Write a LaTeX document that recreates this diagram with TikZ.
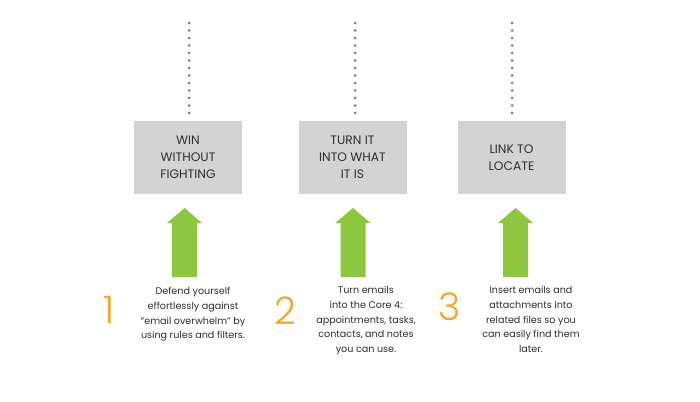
\documentclass[tikz,border=0pt]{standalone}
\usepackage{fontspec}
\setmainfont{Poppins}
\newfontfamily\numfont{Poppins Light}
\definecolor{boxgray}{HTML}{D3D3D3}
\definecolor{arrowgreen}{HTML}{8DC63F}
\definecolor{numorange}{HTML}{F4A62A}
\definecolor{dotgray}{HTML}{7F7F7F}
\definecolor{inkgray}{HTML}{2E2E2E}
\begin{document}
\begin{tikzpicture}[x=1pt,y=-1pt,
  stepbox/.style={fill=boxgray, draw=none, minimum width=108pt, minimum height=73pt,
    inner sep=0pt, align=center, text=inkgray, font=\fontsize{12.3}{16.8}\selectfont},
  dotline/.style={draw=dotgray, line width=3pt, line cap=round, dash pattern=on 0pt off 7.5pt},
  desc/.style={anchor=north, align=center, text=inkgray, inner sep=0pt,
    font=\fontsize{9.6}{14.8}\selectfont},
  stepnum/.style={text=numorange, inner sep=0pt, font=\numfont\fontsize{38}{38}\selectfont},
  pics/uparrow/.style={code={
    \fill[arrowgreen] (-12.5,69) -- (-12.5,15) -- (-17.5,15) -- (0,0) -- (17.5,15)
      -- (12.5,15) -- (12.5,69) -- cycle;}}
]
\useasboundingbox (0,0) rectangle (700,401);
\fill[white] (0,0) rectangle (700,401);

% step boxes
\node[stepbox] (b1) at (188,157.5) {WIN\\WITHOUT\\FIGHTING};
\node[stepbox] (b2) at (352.5,157.5) {TURN IT\\INTO WHAT\\IT IS};
\node[stepbox] (b3) at (511.5,157.5) {LINK TO\\LOCATE};

% dotted leaders above the boxes
\coordinate (t1) at (189,23);
\coordinate (t2) at (355,23);
\coordinate (t3) at (512,23);
\draw[dotline] (t1) -- (t1 |- 0,113.5);
\draw[dotline] (t2) -- (t2 |- 0,113.5);
\draw[dotline] (t3) -- (t3 |- 0,113.5);

% upward arrows
\pic at (184.5,208) {uparrow};
\pic at (353,208) {uparrow};
\pic at (515.5,208) {uparrow};

% step numbers
\node[stepnum] (n1) at (109.5,310) {1};
\node[stepnum] (n2) at (285,311) {2};
\node[stepnum] (n3) at (449.5,307) {3};

% descriptions
\node[desc] (d1) at (193,287) {Defend yourself\\effortlessly against\\``email overwhelm'' by\\using rules and filters.};
\node[desc] (d2) at (366,286) {Turn emails\\into the Core 4:\\appointments, tasks,\\contacts, and notes\\you can use.};
\node[desc] (d3) at (531,286) {Insert emails and\\attachments into\\related files so you\\can easily find them\\later.};
\end{tikzpicture}
\end{document}
